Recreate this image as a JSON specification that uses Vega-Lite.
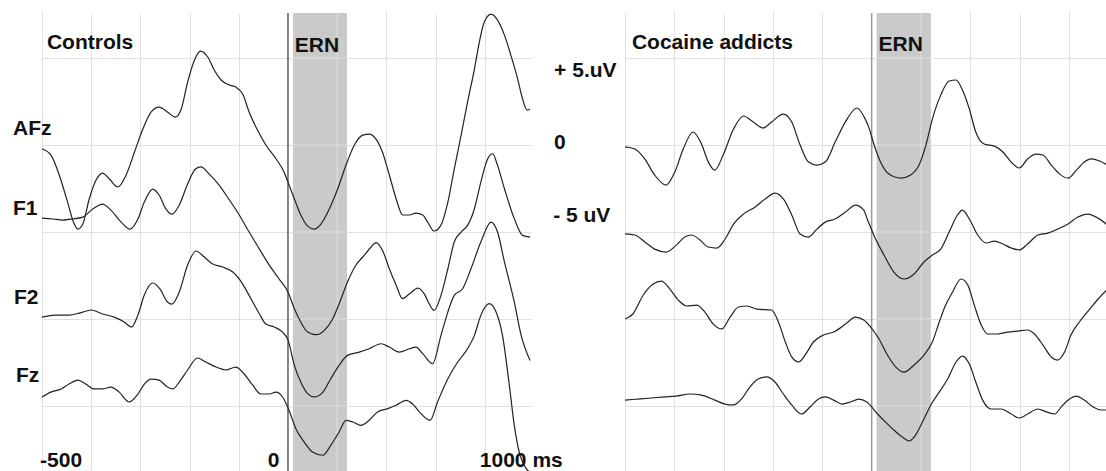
{
  "$schema": "https://vega.github.io/schema/vega-lite/v6.json",
  "padding": {"left": 12, "top": 11, "right": 0, "bottom": 0},
  "background": "white",
  "config": {
    "view": {"stroke": null},
    "axis": {"labels": false, "ticks": false, "domain": false, "grid": true, "gridColor": "#e0e0e0", "gridWidth": 1, "title": null},
    "text": {"font": "Liberation Sans", "fontSize": 21, "fontWeight": "bold", "color": "#111111", "align": "left", "baseline": "alphabetic"}
  },
  "datasets": {
    "controls": [
      {"ch":"AFz","t":-500,"v":-0.21},{"ch":"AFz","t":-482,"v":-0.57},{"ch":"AFz","t":-465,"v":-1.72},{"ch":"AFz","t":-448,"v":-3.28},{"ch":"AFz","t":-436,"v":-4.43},{"ch":"AFz","t":-427,"v":-4.83},{"ch":"AFz","t":-417,"v":-4.54},{"ch":"AFz","t":-404,"v":-3.10},{"ch":"AFz","t":-390,"v":-2.01},{"ch":"AFz","t":-377,"v":-1.61},{"ch":"AFz","t":-363,"v":-1.95},{"ch":"AFz","t":-346,"v":-2.41},{"ch":"AFz","t":-329,"v":-1.72},{"ch":"AFz","t":-312,"v":-0.40},{"ch":"AFz","t":-295,"v":0.92},{"ch":"AFz","t":-278,"v":1.90},{"ch":"AFz","t":-262,"v":2.18},{"ch":"AFz","t":-245,"v":1.90},{"ch":"AFz","t":-229,"v":1.61},{"ch":"AFz","t":-217,"v":2.07},{"ch":"AFz","t":-204,"v":3.62},{"ch":"AFz","t":-190,"v":4.89},{"ch":"AFz","t":-178,"v":5.40},{"ch":"AFz","t":-163,"v":5.06},{"ch":"AFz","t":-150,"v":4.31},{"ch":"AFz","t":-136,"v":3.74},{"ch":"AFz","t":-119,"v":3.45},{"ch":"AFz","t":-106,"v":3.33},{"ch":"AFz","t":-92,"v":2.93},{"ch":"AFz","t":-79,"v":1.90},{"ch":"AFz","t":-62,"v":0.86},{"ch":"AFz","t":-45,"v":0},{"ch":"AFz","t":-24,"v":-0.80},{"ch":"AFz","t":-8,"v":-1.55},{"ch":"AFz","t":0,"v":-2.13},{"ch":"AFz","t":13,"v":-3.10},{"ch":"AFz","t":26,"v":-4.02},{"ch":"AFz","t":40,"v":-4.66},{"ch":"AFz","t":53,"v":-4.83},{"ch":"AFz","t":67,"v":-4.54},{"ch":"AFz","t":84,"v":-3.68},{"ch":"AFz","t":101,"v":-2.53},{"ch":"AFz","t":118,"v":-1.15},{"ch":"AFz","t":135,"v":0},{"ch":"AFz","t":152,"v":0.57},{"ch":"AFz","t":165,"v":0.63},{"ch":"AFz","t":179,"v":0.34},{"ch":"AFz","t":192,"v":-0.40},{"ch":"AFz","t":206,"v":-1.72},{"ch":"AFz","t":220,"v":-3.10},{"ch":"AFz","t":233,"v":-4.02},{"ch":"AFz","t":247,"v":-4.02},{"ch":"AFz","t":260,"v":-3.91},{"ch":"AFz","t":274,"v":-4.02},{"ch":"AFz","t":284,"v":-4.43},{"ch":"AFz","t":297,"v":-4.94},{"ch":"AFz","t":311,"v":-4.60},{"ch":"AFz","t":325,"v":-3.28},{"ch":"AFz","t":338,"v":-1.38},{"ch":"AFz","t":352,"v":0.57},{"ch":"AFz","t":365,"v":2.47},{"ch":"AFz","t":379,"v":4.37},{"ch":"AFz","t":389,"v":5.92},{"ch":"AFz","t":399,"v":7.07},{"ch":"AFz","t":413,"v":7.53},{"ch":"AFz","t":426,"v":7.18},{"ch":"AFz","t":440,"v":6.32},{"ch":"AFz","t":453,"v":5.17},{"ch":"AFz","t":467,"v":3.79},{"ch":"AFz","t":477,"v":2.64},{"ch":"AFz","t":486,"v":2.01},{"ch":"AFz","t":492,"v":2.07},
      {"ch":"F1","t":-500,"v":-4.20},{"ch":"F1","t":-478,"v":-4.25},{"ch":"F1","t":-458,"v":-4.31},{"ch":"F1","t":-438,"v":-4.25},{"ch":"F1","t":-417,"v":-4.14},{"ch":"F1","t":-397,"v":-3.68},{"ch":"F1","t":-377,"v":-3.39},{"ch":"F1","t":-360,"v":-3.74},{"ch":"F1","t":-339,"v":-4.43},{"ch":"F1","t":-321,"v":-4.83},{"ch":"F1","t":-305,"v":-4.25},{"ch":"F1","t":-292,"v":-3.28},{"ch":"F1","t":-275,"v":-2.53},{"ch":"F1","t":-262,"v":-2.87},{"ch":"F1","t":-248,"v":-3.68},{"ch":"F1","t":-236,"v":-3.97},{"ch":"F1","t":-221,"v":-3.45},{"ch":"F1","t":-204,"v":-2.24},{"ch":"F1","t":-188,"v":-1.38},{"ch":"F1","t":-177,"v":-1.26},{"ch":"F1","t":-160,"v":-1.67},{"ch":"F1","t":-140,"v":-2.30},{"ch":"F1","t":-119,"v":-3.16},{"ch":"F1","t":-99,"v":-4.02},{"ch":"F1","t":-79,"v":-5.00},{"ch":"F1","t":-58,"v":-5.98},{"ch":"F1","t":-38,"v":-6.90},{"ch":"F1","t":-18,"v":-7.70},{"ch":"F1","t":0,"v":-8.45},{"ch":"F1","t":13,"v":-9.41},{"ch":"F1","t":26,"v":-10.17},{"ch":"F1","t":40,"v":-10.75},{"ch":"F1","t":57,"v":-10.90},{"ch":"F1","t":74,"v":-10.65},{"ch":"F1","t":91,"v":-9.98},{"ch":"F1","t":108,"v":-8.83},{"ch":"F1","t":121,"v":-7.87},{"ch":"F1","t":138,"v":-6.91},{"ch":"F1","t":155,"v":-6.34},{"ch":"F1","t":169,"v":-5.86},{"ch":"F1","t":179,"v":-5.61},{"ch":"F1","t":192,"v":-6.05},{"ch":"F1","t":206,"v":-7.11},{"ch":"F1","t":220,"v":-8.06},{"ch":"F1","t":233,"v":-8.83},{"ch":"F1","t":247,"v":-8.55},{"ch":"F1","t":264,"v":-8.22},{"ch":"F1","t":277,"v":-8.55},{"ch":"F1","t":287,"v":-9.12},{"ch":"F1","t":297,"v":-9.50},{"ch":"F1","t":311,"v":-8.64},{"ch":"F1","t":325,"v":-7.11},{"ch":"F1","t":338,"v":-5.57},{"ch":"F1","t":352,"v":-5.00},{"ch":"F1","t":365,"v":-4.62},{"ch":"F1","t":379,"v":-3.66},{"ch":"F1","t":392,"v":-2.13},{"ch":"F1","t":406,"v":-0.79},{"ch":"F1","t":416,"v":-0.50},{"ch":"F1","t":426,"v":-1.17},{"ch":"F1","t":440,"v":-2.51},{"ch":"F1","t":460,"v":-4.23},{"ch":"F1","t":477,"v":-5.19},{"ch":"F1","t":492,"v":-5.29},
      {"ch":"F2","t":-500,"v":-9.89},{"ch":"F2","t":-472,"v":-9.77},{"ch":"F2","t":-445,"v":-9.77},{"ch":"F2","t":-424,"v":-9.66},{"ch":"F2","t":-400,"v":-9.48},{"ch":"F2","t":-377,"v":-9.71},{"ch":"F2","t":-353,"v":-9.89},{"ch":"F2","t":-333,"v":-10.17},{"ch":"F2","t":-318,"v":-10.46},{"ch":"F2","t":-305,"v":-9.77},{"ch":"F2","t":-292,"v":-8.62},{"ch":"F2","t":-275,"v":-7.93},{"ch":"F2","t":-260,"v":-8.28},{"ch":"F2","t":-245,"v":-9.02},{"ch":"F2","t":-236,"v":-9.14},{"ch":"F2","t":-221,"v":-8.45},{"ch":"F2","t":-204,"v":-6.90},{"ch":"F2","t":-187,"v":-6.09},{"ch":"F2","t":-170,"v":-6.44},{"ch":"F2","t":-153,"v":-6.84},{"ch":"F2","t":-133,"v":-7.01},{"ch":"F2","t":-112,"v":-7.30},{"ch":"F2","t":-92,"v":-7.99},{"ch":"F2","t":-75,"v":-8.85},{"ch":"F2","t":-58,"v":-9.71},{"ch":"F2","t":-45,"v":-10.29},{"ch":"F2","t":-28,"v":-10.46},{"ch":"F2","t":-11,"v":-10.75},{"ch":"F2","t":0,"v":-11.2},{"ch":"F2","t":13,"v":-12.66},{"ch":"F2","t":26,"v":-13.62},{"ch":"F2","t":40,"v":-14.29},{"ch":"F2","t":53,"v":-14.48},{"ch":"F2","t":71,"v":-14.20},{"ch":"F2","t":87,"v":-13.43},{"ch":"F2","t":104,"v":-12.66},{"ch":"F2","t":121,"v":-12.09},{"ch":"F2","t":145,"v":-11.90},{"ch":"F2","t":165,"v":-11.71},{"ch":"F2","t":189,"v":-11.42},{"ch":"F2","t":206,"v":-11.61},{"ch":"F2","t":226,"v":-11.90},{"ch":"F2","t":247,"v":-11.71},{"ch":"F2","t":260,"v":-11.61},{"ch":"F2","t":274,"v":-11.99},{"ch":"F2","t":294,"v":-12.57},{"ch":"F2","t":311,"v":-10.94},{"ch":"F2","t":325,"v":-9.60},{"ch":"F2","t":338,"v":-8.64},{"ch":"F2","t":355,"v":-8.26},{"ch":"F2","t":372,"v":-7.11},{"ch":"F2","t":392,"v":-5.57},{"ch":"F2","t":413,"v":-4.43},{"ch":"F2","t":426,"v":-5.00},{"ch":"F2","t":440,"v":-6.72},{"ch":"F2","t":460,"v":-9.02},{"ch":"F2","t":474,"v":-10.94},{"ch":"F2","t":492,"v":-12.38},
      {"ch":"Fz","t":-500,"v":-14.48},{"ch":"Fz","t":-482,"v":-14.20},{"ch":"Fz","t":-461,"v":-14.02},{"ch":"Fz","t":-445,"v":-13.74},{"ch":"Fz","t":-427,"v":-13.51},{"ch":"Fz","t":-411,"v":-13.74},{"ch":"Fz","t":-394,"v":-14.02},{"ch":"Fz","t":-377,"v":-14.02},{"ch":"Fz","t":-360,"v":-13.91},{"ch":"Fz","t":-343,"v":-14.20},{"ch":"Fz","t":-323,"v":-14.77},{"ch":"Fz","t":-305,"v":-14.31},{"ch":"Fz","t":-292,"v":-13.74},{"ch":"Fz","t":-278,"v":-13.45},{"ch":"Fz","t":-262,"v":-13.51},{"ch":"Fz","t":-245,"v":-13.91},{"ch":"Fz","t":-234,"v":-14.02},{"ch":"Fz","t":-221,"v":-13.62},{"ch":"Fz","t":-204,"v":-12.93},{"ch":"Fz","t":-184,"v":-12.24},{"ch":"Fz","t":-167,"v":-12.47},{"ch":"Fz","t":-146,"v":-12.76},{"ch":"Fz","t":-126,"v":-12.93},{"ch":"Fz","t":-106,"v":-12.76},{"ch":"Fz","t":-89,"v":-13.16},{"ch":"Fz","t":-72,"v":-13.79},{"ch":"Fz","t":-55,"v":-14.31},{"ch":"Fz","t":-38,"v":-14.31},{"ch":"Fz","t":-24,"v":-14.20},{"ch":"Fz","t":-11,"v":-14.48},{"ch":"Fz","t":0,"v":-15.1},{"ch":"Fz","t":16,"v":-16.30},{"ch":"Fz","t":33,"v":-17.07},{"ch":"Fz","t":50,"v":-17.64},{"ch":"Fz","t":71,"v":-17.83},{"ch":"Fz","t":87,"v":-17.26},{"ch":"Fz","t":104,"v":-16.49},{"ch":"Fz","t":118,"v":-15.82},{"ch":"Fz","t":132,"v":-15.92},{"ch":"Fz","t":148,"v":-16.11},{"ch":"Fz","t":165,"v":-15.82},{"ch":"Fz","t":182,"v":-15.34},{"ch":"Fz","t":203,"v":-15.15},{"ch":"Fz","t":220,"v":-14.96},{"ch":"Fz","t":240,"v":-14.67},{"ch":"Fz","t":253,"v":-14.87},{"ch":"Fz","t":267,"v":-15.34},{"ch":"Fz","t":289,"v":-15.82},{"ch":"Fz","t":304,"v":-14.77},{"ch":"Fz","t":325,"v":-13.43},{"ch":"Fz","t":345,"v":-12.47},{"ch":"Fz","t":365,"v":-11.71},{"ch":"Fz","t":379,"v":-10.94},{"ch":"Fz","t":392,"v":-9.79},{"ch":"Fz","t":409,"v":-9.12},{"ch":"Fz","t":423,"v":-9.60},{"ch":"Fz","t":436,"v":-10.94},{"ch":"Fz","t":450,"v":-13.81},{"ch":"Fz","t":460,"v":-16.11},{"ch":"Fz","t":470,"v":-17.64},{"ch":"Fz","t":480,"v":-18.41},{"ch":"Fz","t":490,"v":-18.79}
    ],
    "cocaine": [
      {"ch":"AFz","t":-500,"v":-0.11},{"ch":"AFz","t":-480,"v":-0.23},{"ch":"AFz","t":-460,"v":-0.80},{"ch":"AFz","t":-440,"v":-1.72},{"ch":"AFz","t":-417,"v":-2.30},{"ch":"AFz","t":-399,"v":-1.55},{"ch":"AFz","t":-382,"v":-0.23},{"ch":"AFz","t":-362,"v":0.75},{"ch":"AFz","t":-345,"v":0.06},{"ch":"AFz","t":-331,"v":-0.98},{"ch":"AFz","t":-318,"v":-1.44},{"ch":"AFz","t":-301,"v":-0.57},{"ch":"AFz","t":-280,"v":0.92},{"ch":"AFz","t":-260,"v":1.67},{"ch":"AFz","t":-240,"v":1.32},{"ch":"AFz","t":-220,"v":0.98},{"ch":"AFz","t":-203,"v":1.32},{"ch":"AFz","t":-179,"v":1.78},{"ch":"AFz","t":-162,"v":1.32},{"ch":"AFz","t":-145,"v":0},{"ch":"AFz","t":-128,"v":-0.98},{"ch":"AFz","t":-111,"v":-1.15},{"ch":"AFz","t":-94,"v":-0.98},{"ch":"AFz","t":-74,"v":0.17},{"ch":"AFz","t":-50,"v":1.49},{"ch":"AFz","t":-30,"v":2.13},{"ch":"AFz","t":-13,"v":1.49},{"ch":"AFz","t":-6,"v":1.03},{"ch":"AFz","t":5,"v":0},{"ch":"AFz","t":18,"v":-0.98},{"ch":"AFz","t":35,"v":-1.67},{"ch":"AFz","t":59,"v":-1.90},{"ch":"AFz","t":79,"v":-1.72},{"ch":"AFz","t":96,"v":-1.15},{"ch":"AFz","t":110,"v":0},{"ch":"AFz","t":123,"v":1.49},{"ch":"AFz","t":140,"v":2.87},{"ch":"AFz","t":157,"v":3.68},{"ch":"AFz","t":171,"v":3.74},{"ch":"AFz","t":184,"v":3.16},{"ch":"AFz","t":198,"v":2.07},{"ch":"AFz","t":211,"v":0.75},{"ch":"AFz","t":228,"v":0.06},{"ch":"AFz","t":249,"v":-0.06},{"ch":"AFz","t":266,"v":-0.40},{"ch":"AFz","t":283,"v":-0.98},{"ch":"AFz","t":299,"v":-1.32},{"ch":"AFz","t":316,"v":-0.80},{"ch":"AFz","t":333,"v":-0.52},{"ch":"AFz","t":347,"v":-0.57},{"ch":"AFz","t":364,"v":-1.15},{"ch":"AFz","t":381,"v":-1.67},{"ch":"AFz","t":398,"v":-1.90},{"ch":"AFz","t":415,"v":-1.44},{"ch":"AFz","t":431,"v":-0.98},{"ch":"AFz","t":445,"v":-0.80},{"ch":"AFz","t":462,"v":-0.92},{"ch":"AFz","t":478,"v":-1.15},
      {"ch":"F1","t":-500,"v":-5.11},{"ch":"F1","t":-480,"v":-5.17},{"ch":"F1","t":-460,"v":-5.57},{"ch":"F1","t":-440,"v":-5.98},{"ch":"F1","t":-416,"v":-6.15},{"ch":"F1","t":-396,"v":-5.75},{"ch":"F1","t":-379,"v":-5.29},{"ch":"F1","t":-365,"v":-5.17},{"ch":"F1","t":-348,"v":-5.46},{"ch":"F1","t":-331,"v":-5.86},{"ch":"F1","t":-314,"v":-5.92},{"ch":"F1","t":-297,"v":-5.40},{"ch":"F1","t":-280,"v":-4.54},{"ch":"F1","t":-260,"v":-3.97},{"ch":"F1","t":-236,"v":-3.56},{"ch":"F1","t":-216,"v":-3.10},{"ch":"F1","t":-196,"v":-2.76},{"ch":"F1","t":-179,"v":-3.10},{"ch":"F1","t":-162,"v":-4.02},{"ch":"F1","t":-145,"v":-5.11},{"ch":"F1","t":-128,"v":-5.29},{"ch":"F1","t":-111,"v":-4.83},{"ch":"F1","t":-94,"v":-4.43},{"ch":"F1","t":-74,"v":-4.25},{"ch":"F1","t":-53,"v":-3.85},{"ch":"F1","t":-33,"v":-3.45},{"ch":"F1","t":-16,"v":-3.74},{"ch":"F1","t":-9,"v":-4.25},{"ch":"F1","t":8,"v":-5.40},{"ch":"F1","t":25,"v":-6.32},{"ch":"F1","t":45,"v":-7.30},{"ch":"F1","t":66,"v":-7.70},{"ch":"F1","t":86,"v":-7.41},{"ch":"F1","t":106,"v":-6.72},{"ch":"F1","t":123,"v":-6.32},{"ch":"F1","t":140,"v":-5.98},{"ch":"F1","t":157,"v":-5.00},{"ch":"F1","t":174,"v":-4.02},{"ch":"F1","t":184,"v":-3.74},{"ch":"F1","t":198,"v":-4.25},{"ch":"F1","t":215,"v":-5.17},{"ch":"F1","t":232,"v":-5.63},{"ch":"F1","t":249,"v":-5.52},{"ch":"F1","t":266,"v":-5.69},{"ch":"F1","t":283,"v":-5.92},{"ch":"F1","t":299,"v":-6.03},{"ch":"F1","t":316,"v":-5.69},{"ch":"F1","t":337,"v":-5.17},{"ch":"F1","t":357,"v":-5.06},{"ch":"F1","t":377,"v":-4.83},{"ch":"F1","t":398,"v":-4.54},{"ch":"F1","t":418,"v":-4.14},{"ch":"F1","t":438,"v":-3.97},{"ch":"F1","t":459,"v":-4.20},{"ch":"F1","t":478,"v":-4.60},
      {"ch":"F2","t":-500,"v":-10.00},{"ch":"F2","t":-484,"v":-9.71},{"ch":"F2","t":-463,"v":-8.62},{"ch":"F2","t":-443,"v":-7.99},{"ch":"F2","t":-426,"v":-7.82},{"ch":"F2","t":-409,"v":-8.28},{"ch":"F2","t":-392,"v":-8.91},{"ch":"F2","t":-375,"v":-9.25},{"ch":"F2","t":-355,"v":-9.20},{"ch":"F2","t":-338,"v":-9.60},{"ch":"F2","t":-321,"v":-10.29},{"ch":"F2","t":-304,"v":-10.57},{"ch":"F2","t":-287,"v":-9.89},{"ch":"F2","t":-270,"v":-9.31},{"ch":"F2","t":-253,"v":-9.25},{"ch":"F2","t":-233,"v":-9.43},{"ch":"F2","t":-203,"v":-9.48},{"ch":"F2","t":-189,"v":-10.17},{"ch":"F2","t":-175,"v":-11.32},{"ch":"F2","t":-162,"v":-12.18},{"ch":"F2","t":-148,"v":-12.47},{"ch":"F2","t":-135,"v":-12.07},{"ch":"F2","t":-118,"v":-11.32},{"ch":"F2","t":-98,"v":-10.92},{"ch":"F2","t":-77,"v":-10.75},{"ch":"F2","t":-53,"v":-10.29},{"ch":"F2","t":-33,"v":-9.89},{"ch":"F2","t":-16,"v":-10.06},{"ch":"F2","t":-2,"v":-10.46},{"ch":"F2","t":15,"v":-11.15},{"ch":"F2","t":32,"v":-12.07},{"ch":"F2","t":49,"v":-12.76},{"ch":"F2","t":66,"v":-13.05},{"ch":"F2","t":86,"v":-12.64},{"ch":"F2","t":106,"v":-12.07},{"ch":"F2","t":123,"v":-11.32},{"ch":"F2","t":137,"v":-10.17},{"ch":"F2","t":150,"v":-9.20},{"ch":"F2","t":164,"v":-8.45},{"ch":"F2","t":181,"v":-7.70},{"ch":"F2","t":195,"v":-8.05},{"ch":"F2","t":208,"v":-9.20},{"ch":"F2","t":222,"v":-10.34},{"ch":"F2","t":235,"v":-10.86},{"ch":"F2","t":255,"v":-10.86},{"ch":"F2","t":276,"v":-10.75},{"ch":"F2","t":296,"v":-10.69},{"ch":"F2","t":316,"v":-10.63},{"ch":"F2","t":330,"v":-10.86},{"ch":"F2","t":347,"v":-11.49},{"ch":"F2","t":364,"v":-12.18},{"ch":"F2","t":377,"v":-12.36},{"ch":"F2","t":391,"v":-11.90},{"ch":"F2","t":404,"v":-10.92},{"ch":"F2","t":421,"v":-10.17},{"ch":"F2","t":442,"v":-9.43},{"ch":"F2","t":459,"v":-8.85},{"ch":"F2","t":478,"v":-8.28},
      {"ch":"Fz","t":-500,"v":-14.66},{"ch":"Fz","t":-474,"v":-14.60},{"ch":"Fz","t":-447,"v":-14.54},{"ch":"Fz","t":-419,"v":-14.48},{"ch":"Fz","t":-396,"v":-14.43},{"ch":"Fz","t":-368,"v":-14.31},{"ch":"Fz","t":-345,"v":-14.37},{"ch":"Fz","t":-318,"v":-14.66},{"ch":"Fz","t":-297,"v":-14.89},{"ch":"Fz","t":-280,"v":-14.94},{"ch":"Fz","t":-264,"v":-14.60},{"ch":"Fz","t":-247,"v":-13.91},{"ch":"Fz","t":-230,"v":-13.45},{"ch":"Fz","t":-213,"v":-13.33},{"ch":"Fz","t":-196,"v":-13.62},{"ch":"Fz","t":-179,"v":-14.31},{"ch":"Fz","t":-162,"v":-14.94},{"ch":"Fz","t":-142,"v":-15.46},{"ch":"Fz","t":-125,"v":-15.06},{"ch":"Fz","t":-108,"v":-14.60},{"ch":"Fz","t":-94,"v":-14.48},{"ch":"Fz","t":-77,"v":-14.66},{"ch":"Fz","t":-60,"v":-14.89},{"ch":"Fz","t":-43,"v":-14.77},{"ch":"Fz","t":-26,"v":-14.60},{"ch":"Fz","t":-10,"v":-14.77},{"ch":"Fz","t":-5,"v":-14.89},{"ch":"Fz","t":12,"v":-15.46},{"ch":"Fz","t":28,"v":-15.92},{"ch":"Fz","t":45,"v":-16.38},{"ch":"Fz","t":62,"v":-16.78},{"ch":"Fz","t":76,"v":-17.01},{"ch":"Fz","t":89,"v":-16.67},{"ch":"Fz","t":103,"v":-15.92},{"ch":"Fz","t":120,"v":-14.94},{"ch":"Fz","t":137,"v":-14.20},{"ch":"Fz","t":154,"v":-13.45},{"ch":"Fz","t":171,"v":-12.47},{"ch":"Fz","t":184,"v":-12.13},{"ch":"Fz","t":198,"v":-12.59},{"ch":"Fz","t":211,"v":-13.62},{"ch":"Fz","t":225,"v":-14.66},{"ch":"Fz","t":242,"v":-15.17},{"ch":"Fz","t":262,"v":-15.17},{"ch":"Fz","t":283,"v":-15.46},{"ch":"Fz","t":299,"v":-15.69},{"ch":"Fz","t":316,"v":-15.46},{"ch":"Fz","t":337,"v":-15.17},{"ch":"Fz","t":354,"v":-15.34},{"ch":"Fz","t":371,"v":-15.46},{"ch":"Fz","t":384,"v":-15.06},{"ch":"Fz","t":401,"v":-14.60},{"ch":"Fz","t":415,"v":-14.43},{"ch":"Fz","t":431,"v":-14.66},{"ch":"Fz","t":449,"v":-15.06},{"ch":"Fz","t":465,"v":-15.23},{"ch":"Fz","t":478,"v":-15.23}
    ]
  },
  "spacing": 94,
  "bounds": "flush",
  "hconcat": [
    {
      "width": 489,
      "height": 460,
      "layer": [
        {"data": {"values": [{}]}, "mark": {"type": "rect", "color": "#cacaca"}, "encoding": {"x": {"datum": 10, "type": "quantitative"}, "x2": {"datum": 120}}},
        {"data": {"values": [{}]}, "mark": {"type": "rule", "color": "#e0e0e0", "strokeWidth": 1}, "encoding": {"x": {"datum": 100, "type": "quantitative"}}},
        {"data": {"values": [{}]}, "mark": {"type": "rule", "color": "#e0e0e0", "strokeWidth": 1}, "encoding": {"x": {"datum": 10, "type": "quantitative"}, "x2": {"datum": 120}, "y": {"datum": 5, "type": "quantitative"}}},
        {"data": {"values": [{}]}, "mark": {"type": "rule", "color": "#e0e0e0", "strokeWidth": 1}, "encoding": {"x": {"datum": 10, "type": "quantitative"}, "x2": {"datum": 120}, "y": {"datum": 0, "type": "quantitative"}}},
        {"data": {"values": [{}]}, "mark": {"type": "rule", "color": "#e0e0e0", "strokeWidth": 1}, "encoding": {"x": {"datum": 10, "type": "quantitative"}, "x2": {"datum": 120}, "y": {"datum": -5, "type": "quantitative"}}},
        {"data": {"values": [{}]}, "mark": {"type": "rule", "color": "#e0e0e0", "strokeWidth": 1}, "encoding": {"x": {"datum": 10, "type": "quantitative"}, "x2": {"datum": 120}, "y": {"datum": -10, "type": "quantitative"}}},
        {"data": {"values": [{}]}, "mark": {"type": "rule", "color": "#e0e0e0", "strokeWidth": 1}, "encoding": {"x": {"datum": 10, "type": "quantitative"}, "x2": {"datum": 120}, "y": {"datum": -15, "type": "quantitative"}}},
        {"data": {"values": [{}]}, "mark": {"type": "rule", "color": "#444444", "strokeWidth": 1.3}, "encoding": {"x": {"datum": 0, "type": "quantitative"}}},
        {
          "data": {"name": "controls"},
          "mark": {"type": "line", "color": "#222222", "strokeWidth": 1.2, "interpolate": "monotone"},
          "encoding": {
            "x": {"field": "t", "type": "quantitative", "scale": {"domain": [-500, 494], "nice": false, "zero": false}, "axis": {"values": [-500, -400, -300, -200, -100, 100, 200, 300, 400], "title": null, "grid": true}},
            "y": {"field": "v", "type": "quantitative", "scale": {"domain": [-18.85, 7.59], "nice": false, "zero": false}, "axis": {"values": [5, 0, -5, -10, -15], "title": null, "grid": true}},
            "detail": {"field": "ch"}
          }
        },
        {"data": {"values": [{}]}, "mark": {"type": "text", "text": "Controls"}, "encoding": {"x": {"datum": -490, "type": "quantitative"}, "y": {"datum": 5.52, "type": "quantitative"}}},
        {"data": {"values": [{}]}, "mark": {"type": "text", "text": "ERN"}, "encoding": {"x": {"datum": 14, "type": "quantitative"}, "y": {"datum": 5.34, "type": "quantitative"}}},
        {"data": {"values": [{}]}, "mark": {"type": "text", "text": "AFz"}, "encoding": {"x": {"datum": -559, "type": "quantitative"}, "y": {"datum": 0.57, "type": "quantitative"}}},
        {"data": {"values": [{}]}, "mark": {"type": "text", "text": "F1"}, "encoding": {"x": {"datum": -559, "type": "quantitative"}, "y": {"datum": -4.02, "type": "quantitative"}}},
        {"data": {"values": [{}]}, "mark": {"type": "text", "text": "F2"}, "encoding": {"x": {"datum": -557, "type": "quantitative"}, "y": {"datum": -9.14, "type": "quantitative"}}},
        {"data": {"values": [{}]}, "mark": {"type": "text", "text": "Fz"}, "encoding": {"x": {"datum": -553, "type": "quantitative"}, "y": {"datum": -13.62, "type": "quantitative"}}},
        {"data": {"values": [{}]}, "mark": {"type": "text", "text": "+ 5.uV"}, "encoding": {"x": {"datum": 541, "type": "quantitative"}, "y": {"datum": 3.91, "type": "quantitative"}}},
        {"data": {"values": [{}]}, "mark": {"type": "text", "text": "0"}, "encoding": {"x": {"datum": 541, "type": "quantitative"}, "y": {"datum": -0.23, "type": "quantitative"}}},
        {"data": {"values": [{}]}, "mark": {"type": "text", "text": "- 5 uV"}, "encoding": {"x": {"datum": 539, "type": "quantitative"}, "y": {"datum": -4.43, "type": "quantitative"}}},
        {"data": {"values": [{}]}, "mark": {"type": "text", "text": "-500"}, "encoding": {"x": {"datum": -504, "type": "quantitative"}, "y": {"datum": -18.51, "type": "quantitative"}}},
        {"data": {"values": [{}]}, "mark": {"type": "text", "text": "0"}, "encoding": {"x": {"datum": -41, "type": "quantitative"}, "y": {"datum": -18.51, "type": "quantitative"}}},
        {"data": {"values": [{}]}, "mark": {"type": "text", "text": "1000 ms"}, "encoding": {"x": {"datum": 390, "type": "quantitative"}, "y": {"datum": -18.51, "type": "quantitative"}}}
      ]
    },
    {
      "width": 481,
      "height": 460,
      "layer": [
        {"data": {"values": [{}]}, "mark": {"type": "rect", "color": "#cacaca"}, "encoding": {"x": {"datum": 10, "type": "quantitative"}, "x2": {"datum": 120}}},
        {"data": {"values": [{}]}, "mark": {"type": "rule", "color": "#e0e0e0", "strokeWidth": 1}, "encoding": {"x": {"datum": 100, "type": "quantitative"}}},
        {"data": {"values": [{}]}, "mark": {"type": "rule", "color": "#e0e0e0", "strokeWidth": 1}, "encoding": {"x": {"datum": 10, "type": "quantitative"}, "x2": {"datum": 120}, "y": {"datum": 5, "type": "quantitative"}}},
        {"data": {"values": [{}]}, "mark": {"type": "rule", "color": "#e0e0e0", "strokeWidth": 1}, "encoding": {"x": {"datum": 10, "type": "quantitative"}, "x2": {"datum": 120}, "y": {"datum": 0, "type": "quantitative"}}},
        {"data": {"values": [{}]}, "mark": {"type": "rule", "color": "#e0e0e0", "strokeWidth": 1}, "encoding": {"x": {"datum": 10, "type": "quantitative"}, "x2": {"datum": 120}, "y": {"datum": -5, "type": "quantitative"}}},
        {"data": {"values": [{}]}, "mark": {"type": "rule", "color": "#e0e0e0", "strokeWidth": 1}, "encoding": {"x": {"datum": 10, "type": "quantitative"}, "x2": {"datum": 120}, "y": {"datum": -10, "type": "quantitative"}}},
        {"data": {"values": [{}]}, "mark": {"type": "rule", "color": "#e0e0e0", "strokeWidth": 1}, "encoding": {"x": {"datum": 10, "type": "quantitative"}, "x2": {"datum": 120}, "y": {"datum": -15, "type": "quantitative"}}},
        {"data": {"values": [{}]}, "mark": {"type": "rule", "color": "#999999", "strokeWidth": 1.5}, "encoding": {"x": {"datum": 0, "type": "quantitative"}}},
        {
          "data": {"name": "cocaine"},
          "mark": {"type": "line", "color": "#222222", "strokeWidth": 1.2, "interpolate": "monotone", "clip": true},
          "encoding": {
            "x": {"field": "t", "type": "quantitative", "scale": {"domain": [-500, 475], "nice": false, "zero": false}, "axis": {"values": [-500, -400, -300, -200, -100, 100, 200, 300, 400], "title": null, "grid": true}},
            "y": {"field": "v", "type": "quantitative", "scale": {"domain": [-18.85, 7.59], "nice": false, "zero": false}, "axis": {"values": [5, 0, -5, -10, -15], "title": null, "grid": true}},
            "detail": {"field": "ch"}
          }
        },
        {"data": {"values": [{}]}, "mark": {"type": "text", "text": "Cocaine addicts"}, "encoding": {"x": {"datum": -486, "type": "quantitative"}, "y": {"datum": 5.52, "type": "quantitative"}}},
        {"data": {"values": [{}]}, "mark": {"type": "text", "text": "ERN"}, "encoding": {"x": {"datum": 14, "type": "quantitative"}, "y": {"datum": 5.40, "type": "quantitative"}}}
      ]
    }
  ]
}
